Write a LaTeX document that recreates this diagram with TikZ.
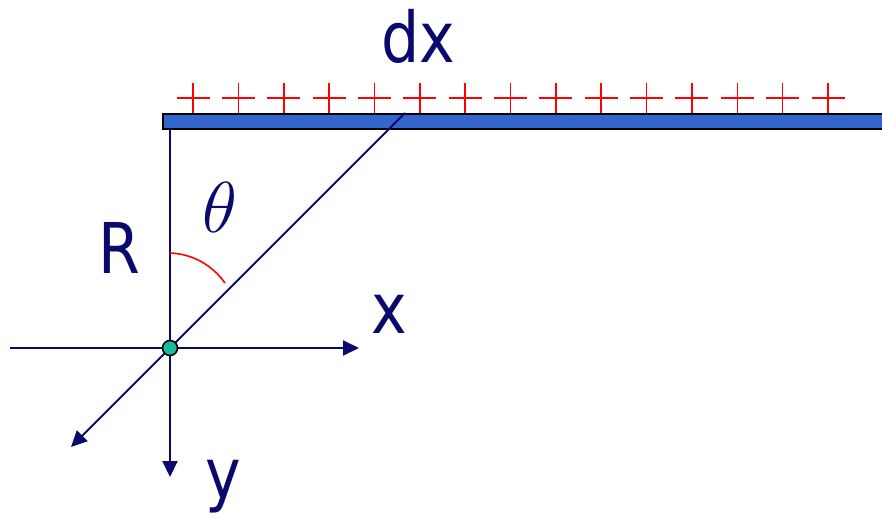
\documentclass[tikz,border=0pt]{standalone}
\usepackage{graphicx}
\usepackage{fontspec}
\setmainfont{DejaVu Sans}[FakeStretch=0.86]
\usetikzlibrary{arrows.meta}
\definecolor{navy}{HTML}{0A0A6E}
\definecolor{barblue}{HTML}{3366CC}
\definecolor{dotteal}{HTML}{1ABC9C}
\definecolor{plusred}{HTML}{FF0000}
\begin{document}
\begin{tikzpicture}[x=1pt,y=-1pt,
  axis/.style={draw=navy,line width=2pt,-{Triangle[length=16pt,width=15pt]}},
  lbl/.style={text=navy,font=\fontsize{70}{80}\selectfont,inner sep=0pt,anchor=base},
  plussign/.style={draw=plusred,line width=1.6pt},
  barstyle/.style={draw=black,line width=2pt,fill=barblue},
  origindot/.style={circle,draw=black,line width=1.6pt,fill=dotteal,minimum size=15pt,inner sep=0pt},
  anglearc/.style={draw=red,line width=1.6pt}]
\fill[white] (0,0) rectangle (882,517);
\useasboundingbox (0,0) rectangle (882,517);
\clip (0,0) rectangle (882,517);

% charges
\foreach \i in {0,...,14}{
  \draw[plussign] ({193+45.36*\i},83) -- ++(0,30);
  \draw[plussign] ({176.5+45.36*\i},98) -- ++(33,0);
}
% bar
\draw[barstyle] (163,114) rectangle (892,129);

% coordinates
\coordinate (O) at (170,348);
\coordinate (xs) at (10,348);
\coordinate (xe) at (359,348);
\coordinate (ytop) at (170,129);
\coordinate (ye) at (170,477);
\coordinate (dtop) at (405,113);
\coordinate (de) at (71,447);
\coordinate (arcA) at (170,253);
\coordinate (arcB) at (225,283);

% axes
\draw[axis] (xs) -- (xe);
\draw[axis] (ytop) -- (ye);
\draw[axis] (dtop) -- (de);

% angle arc
\draw[anglearc] (arcA) .. controls (193,254) and (212,265) .. (arcB);

% origin
\node[origindot] (dot) at (O) {};

% labels
\node[lbl] (dx) at (418,62) {dx};
\node[lbl] (R) at (119,273) {R};
\node[lbl] (xl) at (389,333) {x};
\node[lbl] (yl) at (223,498) {y};
\node[text=navy,font=\Huge,inner sep=0pt,anchor=base] (th) at (220,232) {\scalebox{2.9}{$\theta$}};
\end{tikzpicture}
\end{document}
